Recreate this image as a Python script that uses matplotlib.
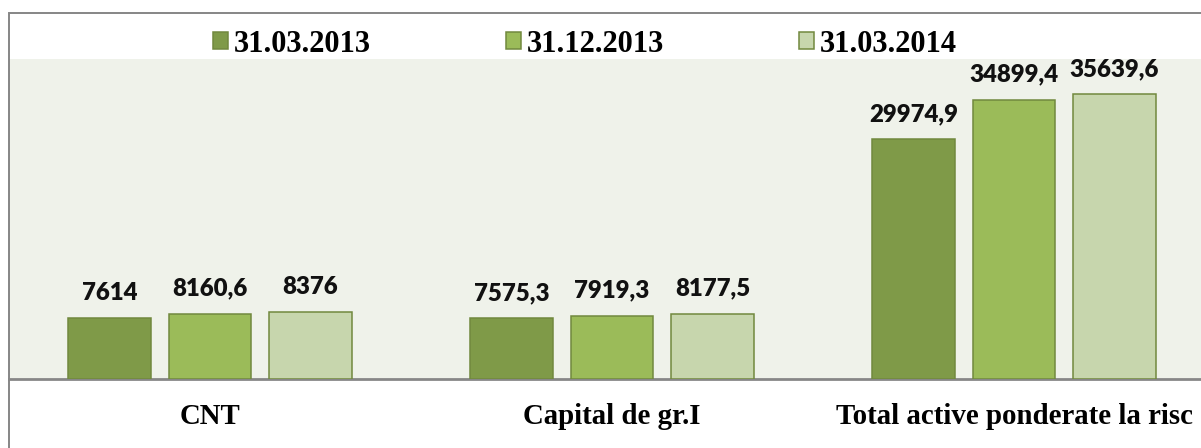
import matplotlib
matplotlib.use("Agg")
import matplotlib.pyplot as plt
from matplotlib.patches import Rectangle, Patch
import numpy as np

categories = ["CNT", "Capital de gr.I", "Total active ponderate la risc"]
series = ["31.03.2013", "31.12.2013", "31.03.2014"]
v_2013_03 = [7614, 7575.3, 29974.9]
v_2013_12 = [8160.6, 7919.3, 34899.4]
v_2014_03 = [8376, 8177.5, 35639.6]
labels_2013_03 = ["7614", "7575,3", "29974,9"]
labels_2013_12 = ["8160,6", "7919,3", "34899,4"]
labels_2014_03 = ["8376", "8177,5", "35639,6"]

colors = ["#7F9A48", "#9BBB59", "#C7D6AD"]
edge = "#71893E"

W, H = 1201, 448
fig = plt.figure(figsize=(W / 100, H / 100), dpi=100)

# outer chart border (cut off at right/bottom like the reference)
fig.patches.append(Rectangle((9 / W, -0.1), 1.2, 1 - 13 / H + 0.1,
                             transform=fig.transFigure, fill=False,
                             edgecolor="#868686", linewidth=1.4))

ax = fig.add_axes([9 / W, 1 - 379 / H, 1206 / W, 320 / H])
ax.set_facecolor("#EFF2EA")

x = np.arange(len(categories))
w = 0.204
off = 0.25
all_vals = [v_2013_03, v_2013_12, v_2014_03]
all_labels = [labels_2013_03, labels_2013_12, labels_2014_03]
for i, (vals, labs) in enumerate(zip(all_vals, all_labels)):
    pos = x + (i - 1) * off
    ax.bar(pos, vals, width=w, color=colors[i], edgecolor=edge, linewidth=1.1,
           zorder=3)
    for p, v, t in zip(pos, vals, labs):
        ax.annotate(t, (p, v), xytext=(0, 13), textcoords="offset points",
                    ha="center", va="baseline", fontsize=17.3,
                    fontweight="heavy", family="Lato", color="#111111")

ax.set_xlim(-0.5, 2.5)
ax.set_ylim(0, 40000)
ax.set_xticks(x)
ax.set_xticklabels(categories, family="Liberation Serif", fontweight="bold",
                   fontsize=20.8)
ax.tick_params(axis="x", length=0, pad=17)
ax.set_yticks([])
for s in ["top", "right", "left"]:
    ax.spines[s].set_visible(False)
ax.spines["bottom"].set_color("#878787")
ax.spines["bottom"].set_linewidth(2)

handles = [Patch(facecolor=c, edgecolor=edge, linewidth=1.1) for c in colors]
fig.legend(handles, series, loc="center", bbox_to_anchor=(585 / W, 1 - 44 / H),
           ncol=3, frameon=False, handlelength=0.5, handleheight=0.5,
           handletextpad=0.2, columnspacing=4.4,
           prop={"family": "Liberation Serif", "weight": "bold", "size": 22})

fig.savefig("out.png", dpi=100)
